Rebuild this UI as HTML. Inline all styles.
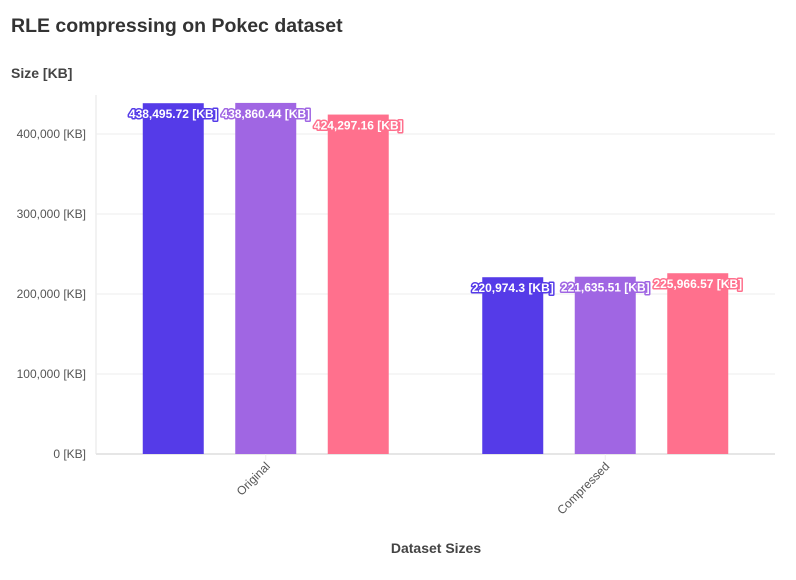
<!DOCTYPE html>
<html><head><meta charset="utf-8"><style>
body{margin:0;background:#fff;font-family:"Liberation Sans",sans-serif;}
</style></head><body>
<svg width="796" height="575" xmlns="http://www.w3.org/2000/svg">
<text x="11" y="32" font-size="19.5" font-weight="bold" fill="#333">RLE compressing on Pokec dataset</text>
<text x="11" y="78" font-size="14" font-weight="bold" fill="#444">Size [KB]</text>
<text x="436" y="553" font-size="14" font-weight="bold" fill="#444" text-anchor="middle">Dataset Sizes</text>
<g id="grid"></g><g id="bars"></g><g id="labels"></g>
</svg>
<script>
const categories=["Original","Compressed"];
const seriesA=[438495.72,220974.3];
const seriesB=[438860.44,221635.51];
const seriesC=[424297.16,225966.57];
const yTicks=[0,100000,200000,300000,400000];
const series=[seriesA,seriesB,seriesC];
const colors=["#553be8","#a066e3","#ff708d"];
const NS="http://www.w3.org/2000/svg";
const x0=96,x1=775,y0=454;
const yS=v=>y0-v*320/400000;
const band=(x1-x0)/categories.length;
const xC=i=>x0+band*(i+0.5);
function mk(t,a,p){const e=document.createElementNS(NS,t);for(const k in a)e.setAttribute(k,a[k]);p.appendChild(e);return e;}
const g=document.getElementById('grid'),b=document.getElementById('bars'),l=document.getElementById('labels');
mk('line',{x1:x0,x2:x0,y1:95,y2:y0,stroke:'#eee','stroke-width':1.5},g);
yTicks.forEach(t=>{
 const ln=mk('line',{x1:x0,x2:x1,y1:yS(t),y2:yS(t),stroke:t?'#eee':'#e6e6e6','stroke-width':t?1:2},g);
 
 
 const tx=mk('text',{x:86,y:yS(t)+4,'font-size':12,fill:'#555','text-anchor':'end'},g);
 tx.textContent=t.toLocaleString('en-US')+' [KB]';
 
 
});
categories.forEach((c,i)=>{
 const tx=mk('text',{x:0,y:0,'font-size':12,fill:'#555','text-anchor':'end',transform:`translate(${xC(i)+5},${y0+13}) rotate(-45)`},g);
 tx.textContent=c;
 
 
 mk('line',{x1:xC(i),x2:xC(i),y1:y0,y2:y0+6,stroke:'#eee'},g);
 series.forEach((s,j)=>{
  const cx=xC(i)+(j-1)*92.5, top=yS(s[i]);
  const r=mk('rect',{x:cx-30.5,y:top,width:61,height:y0-top,fill:colors[j]},b);
  
  
  const lab=s[i].toLocaleString('en-US',{maximumFractionDigits:2})+' [KB]';
  const t1=mk('text',{x:cx,y:top+15,'font-size':12,'font-weight':'bold','text-anchor':'middle',fill:'#fff',stroke:colors[j],'stroke-width':3,'stroke-linejoin':'round','paint-order':'stroke'},l);
  t1.textContent=lab;
  
  
 });
});
</script>
</body></html>
